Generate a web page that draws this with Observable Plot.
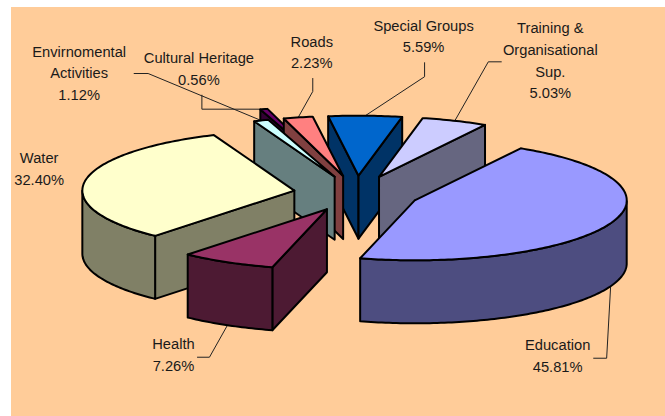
<!DOCTYPE html>
<html>
<head>
<meta charset="utf-8">
<script src="https://cdn.jsdelivr.net/npm/d3@7"></script>
<script src="https://cdn.jsdelivr.net/npm/@observablehq/plot@0.6"></script>
<style>
html,body{margin:0;padding:0;background:#fff;overflow:hidden;}
#chart{position:absolute;left:11px;top:7px;}
svg{display:block;}
</style>
</head>
<body>
<div id="chart"></div>
<script>
// Data, clockwise from the first slice
const categories = ["Education","Health","Water","Envirnomental\nActivities","Cultural Heritage","Roads","Special Groups","Training &\nOrganisational\nSup."];
const shares = [45.81,7.26,32.40,1.12,0.56,2.23,5.59,5.03];

// Styles
const topColors  = ["#9999FF","#993366","#FFFFCC","#CCFFFF","#660066","#FF8080","#0066CC","#CCCCFF"];
const sideColors = ["#4D4D80","#4D1A33","#808066","#667F7F","#330033","#804040","#003366","#666680"];

// Pie layout in chart units
const layout = {cx:356, cy:193, rx:212, ry:60, depth:63, startDeg:60};
const explode = [63,63,63,63,100,63,63,63];
const paintOrder = [6,7,4,5,3,2,0,1];
// Offsets from each slice's outer-edge midpoint
const labelOffsets = [[-53,68],[-54,28],[-46,-13.5],[-182,-49],[-65,-42],[13.6,-67],[58.3,-81],[95.5,-62]];
const leaderOffsets = [
  [[-4,72],[-17,72]],
  [[-18,32],[-30,32]],
  [],
  [[-113,-47],[-127,-47]],
  [[-62,0],[-62,-14]],
  [[14.6,-26],[14.6,-39]],
  [[59.3,-39],[59.3,-53]],
  [[33.5,-59],[46.5,-59]]
];

const rad = d => d * Math.PI / 180;
let cursor = layout.startDeg;
const slices = shares.map((share,i) => {
  const a0 = cursor, a1 = cursor - share * 3.6;   // clockwise
  cursor = a1;
  const mid = (a0 + a1) / 2;
  const ax = layout.cx + explode[i] * Math.cos(rad(mid));
  const ay = layout.cy - explode[i] * (layout.ry / layout.rx) * Math.sin(rad(mid));
  return {i, share, name: categories[i], a0, a1, mid, ax, ay};
});
const rim = (s, deg, dz = 0) => ({
  x: s.ax + layout.rx * Math.cos(rad(deg)),
  y: s.ay - layout.ry * Math.sin(rad(deg)) + dz
});
const arcAngles = (from, to) => {
  const n = Math.max(2, Math.ceil(Math.abs(from - to)));
  return d3.range(n + 1).map(k => from + (to - from) * k / n);
};
const close = pts => [...pts, pts[0]];

const polygonsFor = s => {
  const out = [];
  const d = layout.depth;
  const apex = {x: s.ax, y: s.ay}, apexLow = {x: s.ax, y: s.ay + d};
  // radial walls: only those whose outward normal faces the viewer
  for (const [edge, normal] of [[s.a0, s.a0 + 90], [s.a1, s.a1 - 90]]) {
    if (Math.sin(rad(normal)) < 0) {
      out.push({pts: close([apex, rim(s, edge), rim(s, edge, d), apexLow]), fill: sideColors[s.i]});
    }
  }
  const steps = arcAngles(s.a0, s.a1);
  const front = steps.filter(t => Math.sin(rad(t)) <= 1e-9);
  if (front.length > 1) {
    out.push({
      pts: close([...front.map(t => rim(s, t)), ...front.slice().reverse().map(t => rim(s, t, d))]),
      fill: sideColors[s.i]
    });
  }
  out.push({pts: close([apex, ...steps.map(t => rim(s, t))]), fill: topColors[s.i]});
  return out;
};

const polygons = paintOrder.flatMap(i => polygonsFor(slices[i]));

const anchors = slices.map(s => rim(s, s.mid, Math.sin(rad(s.mid)) < 0 ? layout.depth : 0));
const labels = slices.map((s,i) => ({
  x: anchors[i].x + labelOffsets[i][0],
  y: anchors[i].y + labelOffsets[i][1],
  text: `${s.name}\n${s.share.toFixed(2)}%`
}));
const leaders = slices.filter((s,i) => leaderOffsets[i].length).map(s => [
  anchors[s.i],
  ...leaderOffsets[s.i].map(([dx,dy]) => ({x: anchors[s.i].x + dx, y: anchors[s.i].y + dy}))
]);

const chart = Plot.plot({
  width: 654,
  height: 409,
  margin: 0,
  x: {domain: [11,665], range: [0,654], axis: null},
  y: {domain: [7,416], range: [0,409], axis: null},
  style: {background: "#FFCC99", fontFamily: "'Liberation Sans', Arial, sans-serif"},
  marks: [
    ...leaders.map(l => Plot.line(l, {x: "x", y: "y", stroke: "#222", strokeWidth: 1})),
    ...polygons.map(p => Plot.line(p.pts, {
      x: "x", y: "y", fill: p.fill, stroke: "#000", strokeWidth: 2, strokeLinejoin: "round"
    })),
    Plot.text(labels, {
      x: "x", y: "y", text: "text", fontSize: 14.7, lineHeight: 1.47,
      textAnchor: "middle", fill: "#1a1a1a"
    })
  ]
});
document.getElementById("chart").appendChild(chart);
</script>
</body>
</html>
